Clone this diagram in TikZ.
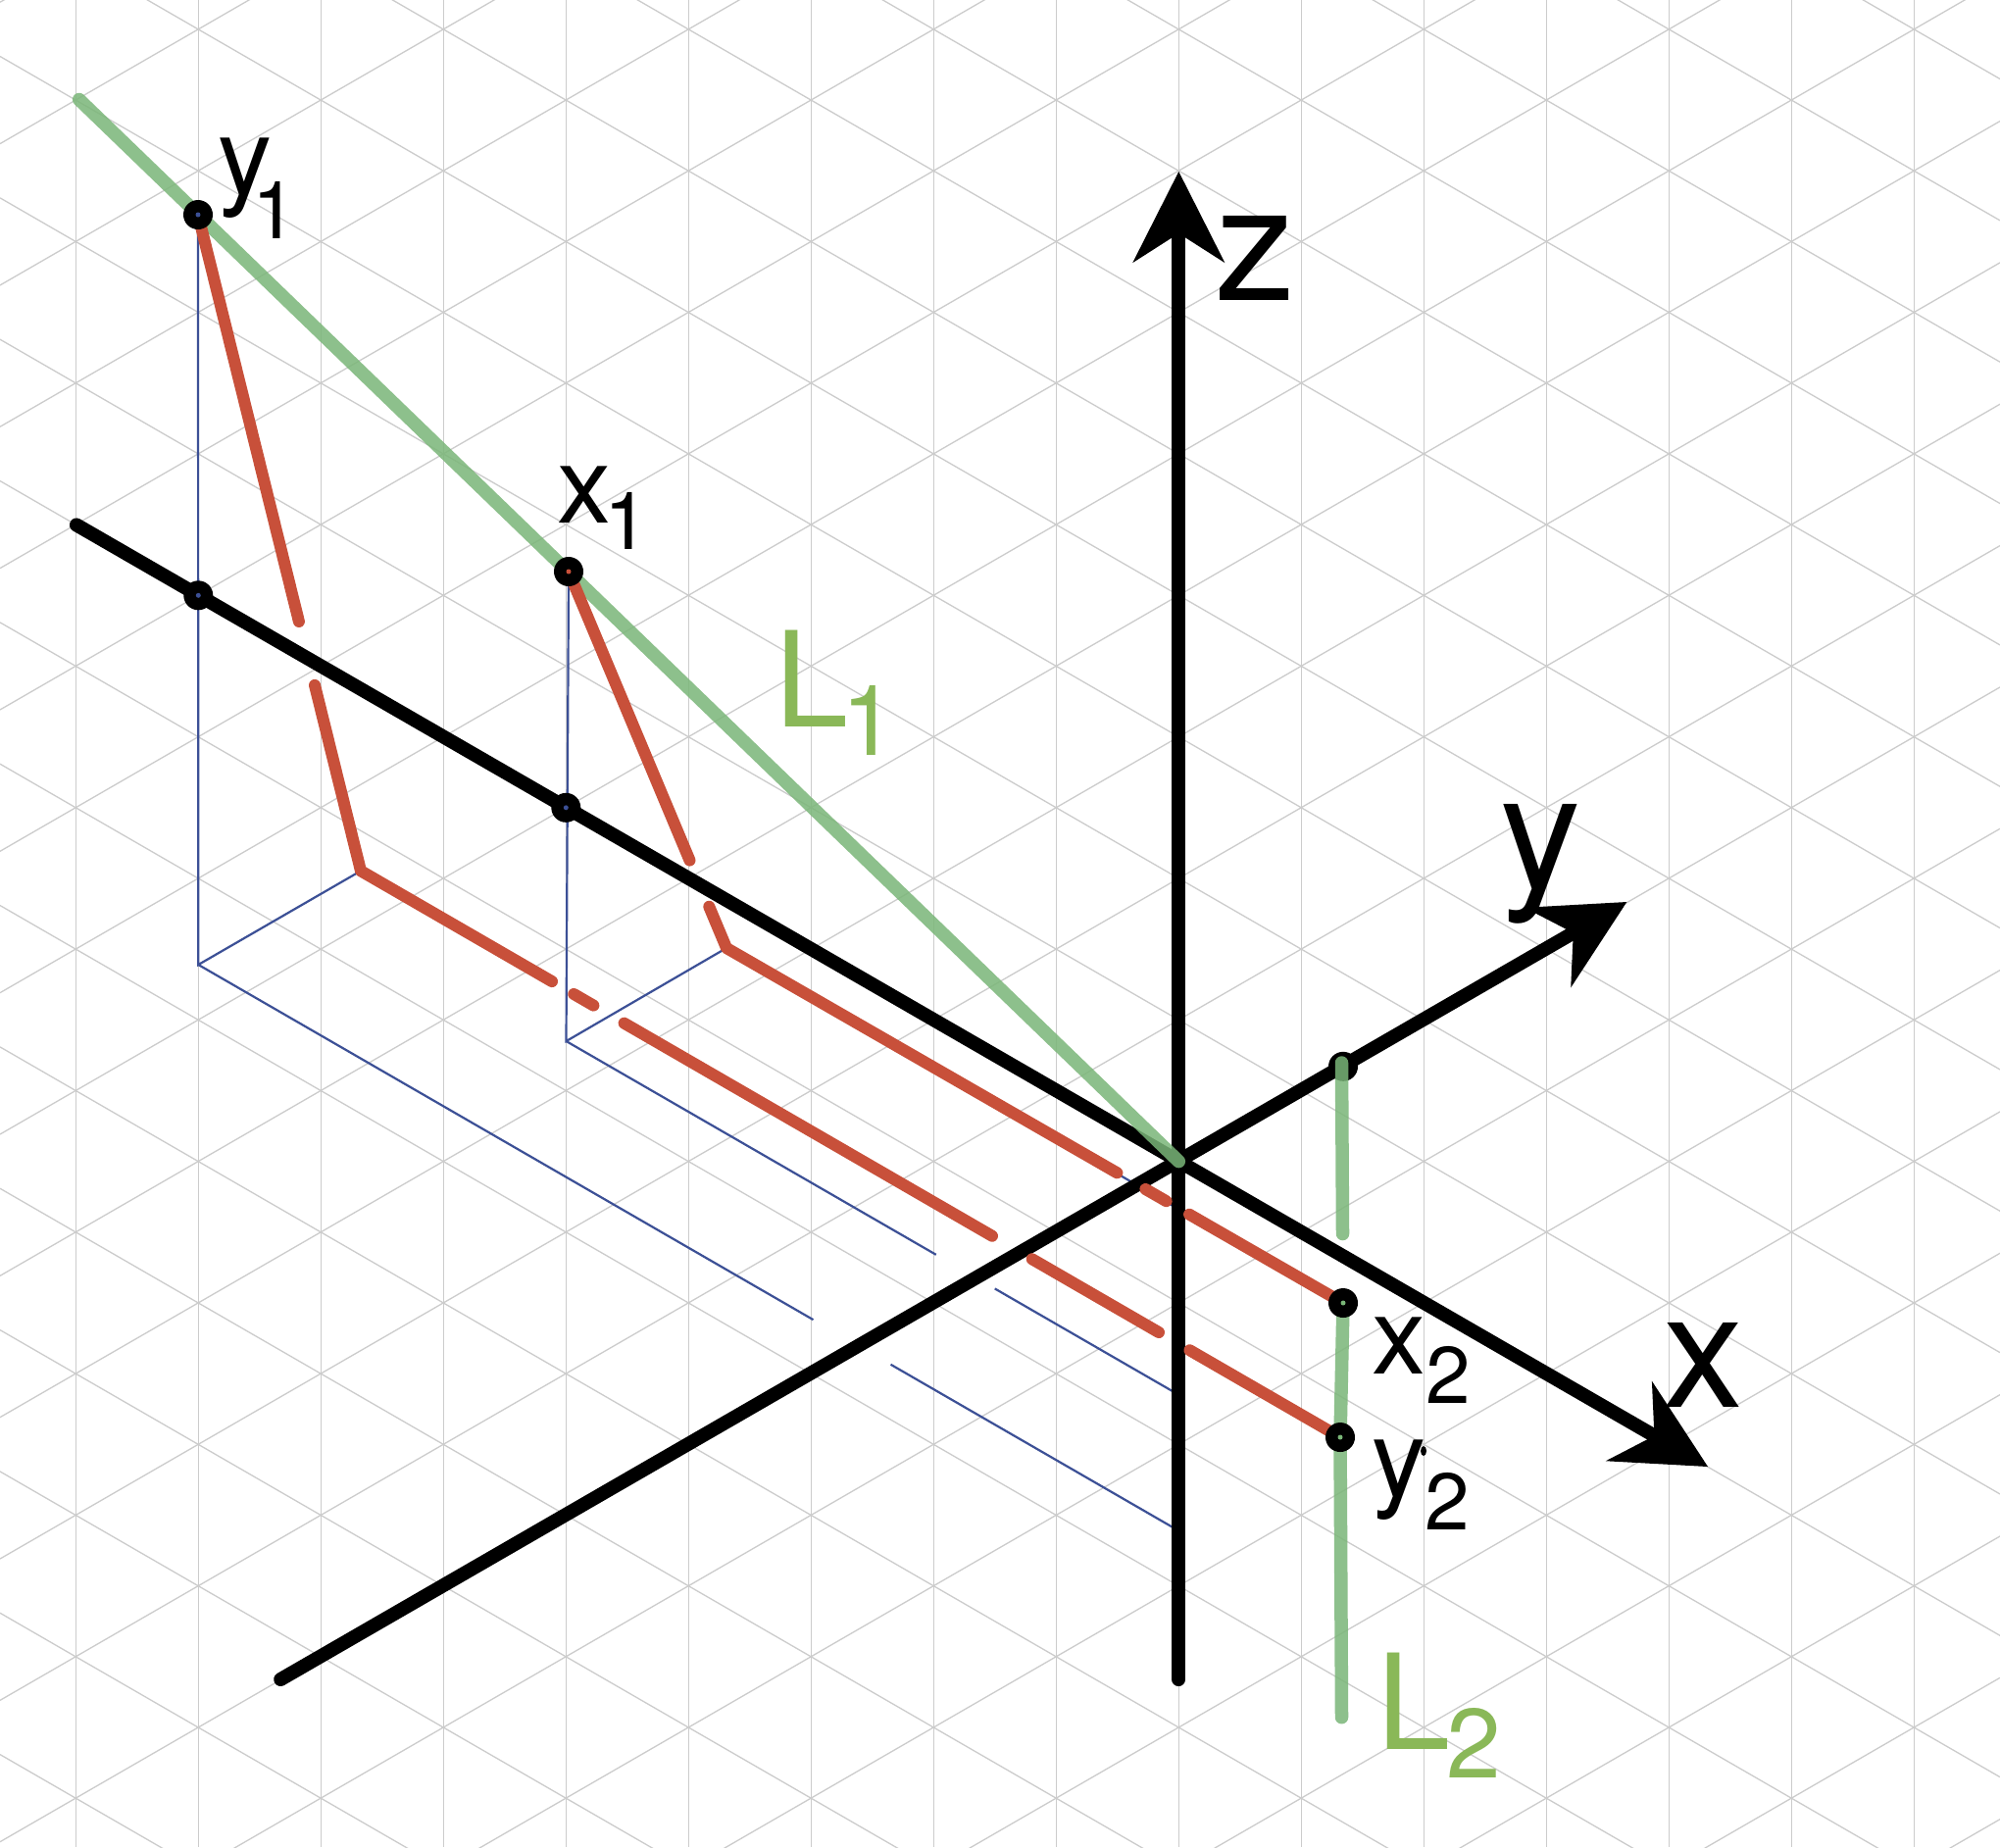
\documentclass[tikz,border=0pt]{standalone}
\usepackage{fontspec}
\setmainfont{TeX Gyre Heros}
\usetikzlibrary{arrows.meta,calc}
\definecolor{gridgray}{RGB}{204,204,204}
\definecolor{projblue}{RGB}{60,80,150}
\definecolor{projred}{RGB}{200,80,58}
\definecolor{lgreen}{RGB}{122,182,120}
\definecolor{tgreen}{RGB}{138,184,88}
\tikzset{
  gridline/.style={draw=gridgray, line width=0.37pt},
  axisline/.style={draw=black, line width=0.14cm, line cap=round},
  axisarrow/.style={axisline, -{Stealth[length=0.93cm,width=0.94cm,inset=0.3cm,line width=0.5pt]}},
  projline/.style={draw=projblue, line width=0.022cm},
  redline/.style={draw=projred, line width=0.12cm, line cap=round, line join=round},
  greenline/.style={draw=lgreen, line width=0.135cm, line cap=round, draw opacity=0.85},
  axlabel/.style={inner sep=0pt, anchor=base west, font=\fontsize{46.7}{46.7}\selectfont},
  ptlabel/.style={inner sep=0pt, anchor=base west, font=\fontsize{31.3}{31.3}\selectfont},
  llabel/.style={inner sep=0pt, anchor=base west, text=tgreen, font=\fontsize{38.4}{38.4}\selectfont},
}
\newcommand{\psub}[3]{\kern#1\raisebox{#2}{\fontsize{23.3}{23.3}\selectfont #3}}
\newcommand{\lsub}[3]{\kern#1\raisebox{#2}{\fontsize{28.5}{28.5}\selectfont #3}}
\newcommand{\ptdot}[2]{\fill[black] (#1) circle[radius=15]; \fill[#2] (#1) circle[radius=2.5];}
\begin{document}
\begin{tikzpicture}[x=0.01cm,y=-0.01cm]
\useasboundingbox (0,0) rectangle (2040,1884);
\fill[white] (0,0) rectangle (2040,1884);
% grid
\begin{scope}
\clip (0,0) rectangle (2040,1884);
\foreach \k in {0,...,15} \draw[gridline] ({77.3+125*\k},0) -- ({77.3+125*\k},1884);
\foreach \n in {-12,...,10} \draw[gridline] (0,{490.5+144.34*\n}) -- (2040,{490.5+144.34*\n+1177.8});
\foreach \n in {-14,...,9} \draw[gridline] (0,{1878.7+144.34*\n}) -- (2040,{1878.7+144.34*\n-1177.8});
\end{scope}
% coordinates
\coordinate (O) at (1202.3,1184.6);
\coordinate (Xs) at (78,535.4);
\coordinate (Xt) at (1742,1496);
\coordinate (Ys) at (286.2,1713);
\coordinate (Yt) at (1659.3,920);
\coordinate (Zs) at (1202.3,1713);
\coordinate (Zt) at (1202.3,175);
\coordinate (L1s) at (80.7,101.5);
\coordinate (Y1) at (202,219);
\coordinate (X1) at (580,583);
\coordinate (PX1) at (202.3,607.3);
\coordinate (PX2) at (577.3,823.8);
\coordinate (A1) at (202.3,984);
\coordinate (B1) at (368,888.3);
\coordinate (A1e) at (1202.3,1561.4);
\coordinate (A2) at (577.5,1062);
\coordinate (B2) at (741,967);
\coordinate (A2e) at (1202.3,1422.7);
\coordinate (B2e) at (1212,1239);
\coordinate (X2) at (1370,1329);
\coordinate (Y2) at (1367,1466);
\coordinate (PY) at (1370,1087.8);
\coordinate (L2a) at (1368.5,1084);
\coordinate (L2b) at (1369.5,1258.5);
\coordinate (L2e) at (1368.5,1751.7);
% blue construction lines
\draw[projline] (Y1) -- (A1) -- (B1);
\draw[projline] (A1) -- ($(A1)!0.6272!(A1e)$);
\draw[projline] ($(A1)!0.7062!(A1e)$) -- (A1e);
\draw[projline] (X1) -- (A2) -- (B2);
\draw[projline] (A2) -- ($(A2)!0.6038!(A2e)$);
\draw[projline] ($(A2)!0.6998!(A2e)$) -- (A2e);
\draw[projline] (B2) -- (B2e);
% axes
\draw[axisline] (Zs) -- (O);
\draw[axisarrow] (O) -- (Zt);
\draw[axisarrow] (Xs) -- (Xt);
\draw[axisarrow] (Ys) -- (Yt);
% green line L1
\draw[greenline] (L1s) -- (O);
% red lines
\draw[redline] (Y1) -- ($(Y1)!0.62!(B1)$);
\draw[redline] ($(Y1)!0.717!(B1)$) -- (B1) -- ($(B1)!0.1952!(Y2)$);
\draw[redline] ($(B1)!0.2175!(Y2)$) -- ($(B1)!0.2376!(Y2)$);
\draw[redline] ($(B1)!0.2689!(Y2)$) -- ($(B1)!0.6446!(Y2)$);
\draw[redline] ($(B1)!0.6854!(Y2)$) -- ($(B1)!0.8148!(Y2)$);
\draw[redline] ($(B1)!0.8463!(Y2)$) -- (Y2);
\draw[redline] (X1) -- ($(X1)!0.767!(B2)$);
\draw[redline] ($(X1)!0.89!(B2)$) -- (B2) -- ($(B2)!0.6334!(X2)$);
\draw[redline] ($(B2)!0.6795!(X2)$) -- ($(B2)!0.7132!(X2)$);
\draw[redline] ($(B2)!0.7505!(X2)$) -- (X2);
% point on y axis, then L2
\ptdot{PY}{black}
\draw[greenline] (L2a) -- (L2b);
\draw[greenline] (X2) -- (Y2) -- (L2e);
% points
\ptdot{Y1}{projblue}
\ptdot{X1}{projred}
\ptdot{PX1}{projblue}
\ptdot{PX2}{projblue}
\ptdot{X2}{lgreen}
\ptdot{Y2}{lgreen}
\fill[black] (1452,1480) ellipse[x radius=3, y radius=5];
% labels
\node[axlabel] (lz) at (1239,306) {z};
\node[axlabel] (lx) at (1696,1435) {x};
\node[axlabel] (ly) at (1530,906) {y};
\node[ptlabel] (ly1) at (222,198) {y\psub{-0.2cm}{-0.45cm}{1}};
\node[ptlabel] (lx1) at (568,533.5) {x\psub{-0.075cm}{-0.265cm}{1}};
\node[ptlabel] (lx2) at (1399,1401.7) {x\psub{0cm}{-0.30cm}{2}};
\node[ptlabel] (ly2) at (1399,1526.4) {y\psub{-0.01cm}{-0.336cm}{2}};
\node[llabel] (lL1) at (790,741.7) {L\lsub{-0.07cm}{-0.29cm}{1}};
\node[llabel] (lL2) at (1404,1784) {L\lsub{-0.04cm}{-0.29cm}{2}};
\end{tikzpicture}
\end{document}
